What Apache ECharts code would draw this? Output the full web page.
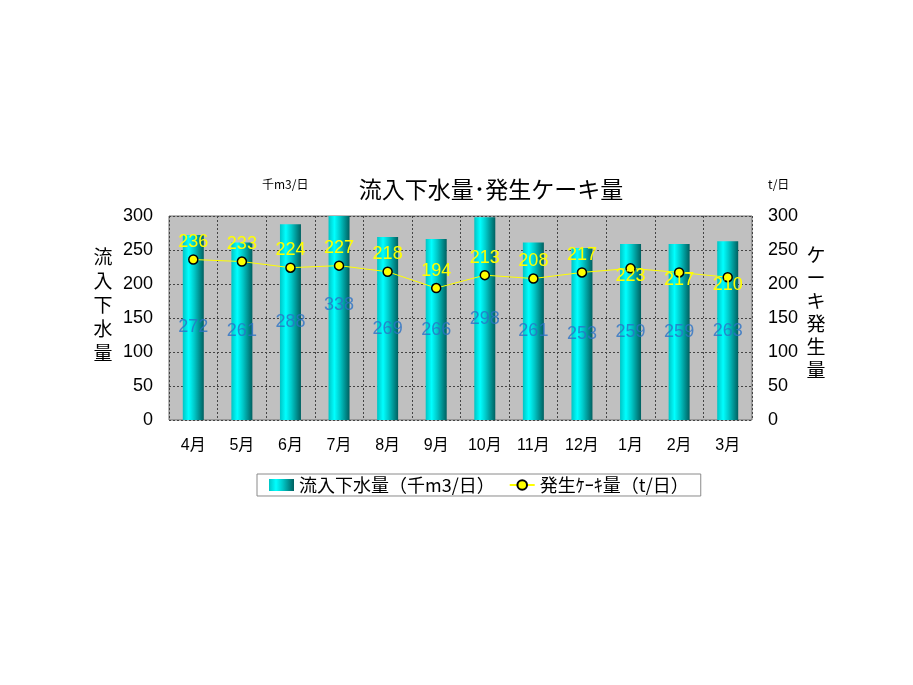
<!DOCTYPE html>
<html><head><meta charset="utf-8">
<script src="https://cdn.jsdelivr.net/npm/echarts@6/dist/echarts.min.js"></script>
<style>html,body{margin:0;padding:0;background:#fff}#c{width:913px;height:685px}</style>
</head><body><div id="c"></div>
<script>
const months = ['4月','5月','6月','7月','8月','9月','10月','11月','12月','1月','2月','3月'];
const inflow = [272,261,288,338,269,266,298,261,253,259,259,263];
const cake = [236,233,224,227,218,194,213,208,217,223,217,210];
const yTicks = [0,50,100,150,200,250,300];
const cakeLabelBelow = ['1月','2月','3月'];

const FONT = "'Liberation Sans','Noto Sans CJK JP',sans-serif";
const JP = "'Noto Sans CJK JP',sans-serif";
const chart = echarts.init(document.getElementById('c'));
const barGrad = new echarts.graphic.LinearGradient(0,0,1,0,[
  {offset:0,color:'#00c4c4'},{offset:0.28,color:'#00ffff'},{offset:0.55,color:'#00c8c8'},{offset:1,color:'#006060'}]);
const yMax = yTicks[yTicks.length-1], yInt = yTicks[1]-yTicks[0];
const yAxisBase = {type:'value',min:yTicks[0],max:yMax,interval:yInt,
  axisLine:{show:false},axisTick:{show:false},
  axisLabel:{color:'#000',fontSize:18,fontFamily:FONT,margin:16}};
chart.setOption({
  animation:false,
  textStyle:{fontFamily:JP},
  title:{text:'流入下水量･発生ケーキ量',left:486,top:173,textAlign:'center',
    textStyle:{fontSize:23,fontWeight:'normal',color:'#000',fontFamily:JP}},
  grid:{left:169,right:161,top:216,bottom:265,show:true,backgroundColor:'#c0c0c0',borderColor:'#707070',borderWidth:1},
  legend:{left:257,top:474,padding:[2,12,2,12],borderColor:'#8a8a8a',borderWidth:1,itemGap:14,
    itemWidth:25,itemHeight:12,
    textStyle:{fontSize:18,color:'#000',fontFamily:JP},
    data:[{name:'流入下水量（千m3/日）',icon:'rect'},{name:'発生ｹｰｷ量（t/日）'}]},
  xAxis:{type:'category',data:months,axisLine:{show:false},axisTick:{show:false},
    axisLabel:{color:'#000',fontSize:16,fontFamily:FONT,margin:18},
    splitLine:{show:true,lineStyle:{color:'#444',type:[2,2],width:1}}},
  yAxis:[
    Object.assign({},yAxisBase,{position:'left',splitLine:{show:true,lineStyle:{color:'#444',type:[2,2],width:1}}}),
    Object.assign({},yAxisBase,{position:'right',splitLine:{show:false}})
  ],
  graphic:[
    {type:'text',left:262,top:178,style:{text:'千m3/日',fontSize:12,fill:'#000',fontFamily:JP}},
    {type:'text',left:768,top:178,style:{text:'t/日',fontSize:12,fill:'#000',fontFamily:JP}},
    {type:'text',x:103,y:305,style:{text:'流\n入\n下\n水\n量',fontSize:19,lineHeight:24,fill:'#000',fontFamily:JP,align:'center',verticalAlign:'middle'}},
    {type:'text',x:816,y:312,style:{text:'ケ\nー\nキ\n発\n生\n量',fontSize:19,lineHeight:23,fill:'#000',fontFamily:JP,align:'center',verticalAlign:'middle'}}
  ],
  series:[
    {name:'流入下水量（千m3/日）',type:'bar',data:inflow,barWidth:21,yAxisIndex:0,
      itemStyle:{color:barGrad},clip:true},
    {name:'inflowLabel',type:'scatter',data:inflow.map(v=>v/2),yAxisIndex:0,symbolSize:0,silent:true,
      label:{show:true,position:'inside',formatter:p=>inflow[p.dataIndex],color:'#2a72c6',fontSize:18,fontFamily:FONT},z:5},
    {name:'発生ｹｰｷ量（t/日）',type:'line',yAxisIndex:1,symbol:'circle',symbolSize:9,
      lineStyle:{color:'#ffff00',width:1},
      itemStyle:{color:'#ffff00',borderColor:'#000',borderWidth:1.5},
      data:cake.map((v,i)=>{
        const below = cakeLabelBelow.includes(months[i]);
        return below ? {value:v,label:{position:'inside',offset:[0,8]}} : {value:v};
      }),
      label:{show:true,position:'top',distance:3,color:'#ffff00',fontSize:18,fontFamily:FONT},z:6}
  ]
});
</script></body></html>
